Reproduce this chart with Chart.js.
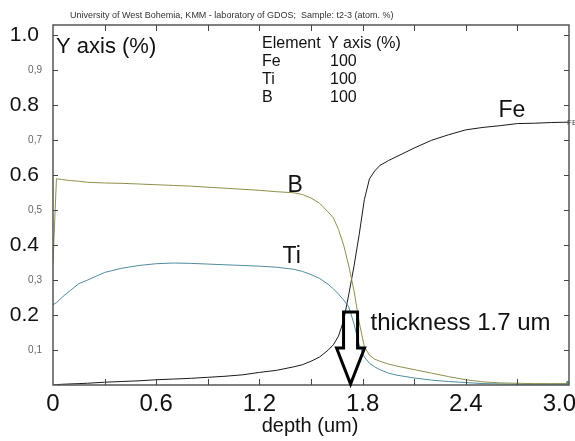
<!DOCTYPE html>
<html>
<head>
<meta charset="utf-8">
<title>GDOS depth profile t2-3</title>
<script src="https://cdn.jsdelivr.net/npm/chart.js@4.4.1/dist/chart.umd.min.js"></script>
<style>
  html, body { margin: 0; padding: 0; background: #fff; }
  #wrap { width: 575px; height: 441px; }
</style>
</head>
<body>
<div id="wrap"><canvas id="profileChart" width="575" height="441"></canvas></div>
<script>
// depth in um, concentrations as fraction (1.0 = 100 %)
const depth = [0, 0.02, 0.05, 0.1, 0.15, 0.2, 0.3, 0.4, 0.5, 0.6, 0.7, 0.8, 0.9, 1.0, 1.1, 1.2, 1.3, 1.4,
  1.45, 1.5, 1.55, 1.6, 1.63, 1.66, 1.69, 1.72, 1.75, 1.78, 1.81, 1.84, 1.87, 1.9, 1.95, 2.0,
  2.1, 2.2, 2.3, 2.4, 2.5, 2.6, 2.7, 2.8, 2.9, 3.0];
const feValues = [0.0, 0.001, 0.002, 0.003, 0.004, 0.005, 0.008, 0.010, 0.012, 0.015, 0.017, 0.019, 0.022, 0.025, 0.029, 0.036, 0.042, 0.052,
  0.058, 0.068, 0.08, 0.10, 0.115, 0.14, 0.185, 0.26, 0.34, 0.43, 0.53, 0.59, 0.612, 0.628, 0.642, 0.654,
  0.678, 0.70, 0.716, 0.73, 0.737, 0.742, 0.748, 0.749, 0.751, 0.752];
const tiValues = [0.23, 0.235, 0.25, 0.27, 0.29, 0.30, 0.322, 0.334, 0.342, 0.347, 0.349, 0.348, 0.346, 0.344, 0.342, 0.34, 0.337, 0.331,
  0.325, 0.316, 0.305, 0.288, 0.275, 0.26, 0.243, 0.223, 0.175, 0.115, 0.08, 0.062, 0.052, 0.044, 0.034, 0.028,
  0.02, 0.014, 0.01, 0.007, 0.004, 0.003, 0.002, 0.002, 0.002, 0.002];
const bValues = [0.35, 0.59, 0.588, 0.585, 0.583, 0.58, 0.578, 0.577, 0.575, 0.573, 0.571, 0.569, 0.566, 0.563, 0.56, 0.557, 0.553, 0.55,
  0.545, 0.535, 0.52, 0.495, 0.478, 0.445, 0.40, 0.34, 0.27, 0.18, 0.11, 0.085, 0.074, 0.068, 0.06, 0.054,
  0.044, 0.034, 0.024, 0.015, 0.009, 0.006, 0.005, 0.004, 0.004, 0.004];

const yTickValues = [0, 0.1, 0.2, 0.3, 0.4, 0.5, 0.6, 0.7, 0.8, 0.9, 1.0];
const xTickValues = [0, 0.3, 0.6, 0.9, 1.2, 1.5, 1.8, 2.1, 2.4, 2.7, 3.0];
const xLabelValues = [0, 0.6, 1.2, 1.8, 2.4, 3.0];

const elements = ['Fe', 'Ti', 'B'];
const elementScale = ['100', '100', '100'];

const FONT = '"Liberation Sans", Arial, sans-serif';

function toPoints(values) {
  return depth.map((d, i) => ({ x: d, y: values[i] }));
}

function isMajor(v) {
  return v > 0 && Math.round(v * 10) % 2 === 0;
}

// end marker (small hollow square) like in the original software
function endMarker(ctx) {
  return ctx.dataIndex === depth.length - 1 ? 3 : 0;
}

const decorations = {
  id: 'decorations',
  afterDraw(chart) {
    const { ctx, chartArea: a, scales: { x, y } } = chart;
    ctx.save();

    // frame
    ctx.strokeStyle = '#555';
    ctx.lineWidth = 1.5;
    ctx.strokeRect(a.left, a.top, a.right - a.left, a.bottom - a.top);

    // inward tick marks
    ctx.lineWidth = 1;
    ctx.strokeStyle = '#444';
    ctx.beginPath();
    yTickValues.forEach(v => {
      if (v === 0) return;
      const py = Math.round(y.getPixelForValue(v)) + 0.5;
      ctx.moveTo(a.left, py); ctx.lineTo(a.left + 5, py);
      ctx.moveTo(a.right, py); ctx.lineTo(a.right - 5, py);
    });
    xTickValues.forEach(v => {
      if (v === 0 || v === 3.0) return;
      const px = Math.round(x.getPixelForValue(v)) + 0.5;
      ctx.moveTo(px, a.bottom); ctx.lineTo(px, a.bottom - 6);
      ctx.moveTo(px, a.top); ctx.lineTo(px, a.top + 6);
    });
    ctx.stroke();

    // small y labels (odd tenths) sit a little further left than the big ones
    ctx.fillStyle = '#666';
    ctx.font = '10px ' + FONT;
    ctx.textAlign = 'right';
    ctx.textBaseline = 'middle';
    yTickValues.forEach(v => {
      if (v === 0 || isMajor(v)) return;
      ctx.fillText(v.toFixed(1).replace('.', ','), 42, y.getPixelForValue(v));
    });

    // x tick labels
    ctx.fillStyle = '#111';
    ctx.font = '24px ' + FONT;
    ctx.textBaseline = 'top';
    xLabelValues.forEach((v, i) => {
      const last = i === xLabelValues.length - 1;
      ctx.textAlign = last ? 'right' : 'center';
      const px = last ? 576 : x.getPixelForValue(v);
      ctx.fillText(v === 0 ? '0' : v.toFixed(1), px, a.bottom + 7);
    });

    // axis title
    ctx.textAlign = 'center';
    ctx.textBaseline = 'alphabetic';
    ctx.font = '20px ' + FONT;
    ctx.fillText('depth (um)', 310, 432);

    // header
    ctx.textAlign = 'left';
    ctx.font = '9px ' + FONT;
    ctx.fillStyle = '#333';
    ctx.fillText('University of West Bohemia, KMM - laboratory of GDOS;  Sample: t2-3 (atom. %)', 70, 18);

    ctx.fillStyle = '#111';
    ctx.font = '22px ' + FONT;
    ctx.fillText('Y axis (%)', 56, 53);

    // element table
    ctx.font = '16px ' + FONT;
    ctx.fillText('Element', 262, 48);
    ctx.fillText('Y axis (%)', 328, 48);
    elements.forEach((el, i) => {
      ctx.fillText(el, 262, 66 + i * 18);
      ctx.fillText(elementScale[i], 330, 66 + i * 18);
    });

    // curve labels
    ctx.font = '23px ' + FONT;
    ctx.fillText('B', x.getPixelForValue(1.363), y.getPixelForValue(0.552));
    ctx.fillText('Ti', x.getPixelForValue(1.334), y.getPixelForValue(0.349));
    ctx.fillText('Fe', x.getPixelForValue(2.59), y.getPixelForValue(0.767));
    ctx.font = '24px ' + FONT;
    ctx.fillText('thickness 1.7 um', x.getPixelForValue(1.846), y.getPixelForValue(0.157));

    ctx.font = '8px ' + FONT;
    ctx.fillStyle = '#444';
    ctx.fillText('FE', a.right - 2, y.getPixelForValue(0.752) + 3);

    // hollow arrow pointing at the interface
    const cx = x.getPixelForValue(1.73);
    const top = y.getPixelForValue(0.209);
    const neck = y.getPixelForValue(0.106);
    const tip = y.getPixelForValue(0);
    ctx.strokeStyle = '#000';
    ctx.lineWidth = 3;
    ctx.lineJoin = 'miter';
    ctx.beginPath();
    ctx.moveTo(cx - 7, top);
    ctx.lineTo(cx + 7, top);
    ctx.lineTo(cx + 7, neck);
    ctx.lineTo(cx + 14, neck);
    ctx.lineTo(cx, tip - 1);
    ctx.lineTo(cx - 14, neck);
    ctx.lineTo(cx - 7, neck);
    ctx.closePath();
    ctx.stroke();

    ctx.restore();
  }
};

const chart = new Chart(document.getElementById('profileChart'), {
  type: 'line',
  data: {
    datasets: [
      {
        label: 'B',
        data: toPoints(bValues),
        borderColor: '#8e8f4c',
        borderWidth: 1,
        pointRadius: endMarker,
        pointStyle: 'rect',
        pointBorderColor: '#3f8f4f',
        pointBackgroundColor: 'rgba(0,0,0,0)',
        pointBorderWidth: 1
      },
      {
        label: 'Ti',
        data: toPoints(tiValues),
        borderColor: '#4f8c9c',
        borderWidth: 1,
        pointRadius: endMarker,
        pointStyle: 'rect',
        pointBorderColor: '#3f8f4f',
        pointBackgroundColor: 'rgba(0,0,0,0)',
        pointBorderWidth: 1
      },
      {
        label: 'Fe',
        data: toPoints(feValues),
        borderColor: '#1a1a1a',
        borderWidth: 1,
        pointRadius: 0
      }
    ]
  },
  options: {
    responsive: false,
    animation: false,
    devicePixelRatio: 1,
    layout: { padding: { top: 25, right: 6, left: 0, bottom: 0 } },
    plugins: {
      legend: { display: false },
      tooltip: { enabled: false }
    },
    scales: {
      x: {
        type: 'linear',
        min: 0,
        max: 3.0,
        grid: { display: false },
        border: { display: false },
        ticks: { display: false },
        afterFit: s => { s.height = 56; }
      },
      y: {
        type: 'linear',
        min: 0,
        max: 1.03,
        grid: { display: false },
        border: { display: false },
        afterBuildTicks: s => { s.ticks = yTickValues.map(v => ({ value: v })); },
        afterFit: s => { s.width = 53; },
        ticks: {
          padding: 6,
          // only the even tenths are labelled by the axis itself, odd ones are drawn small by the plugin
          callback: v => (isMajor(v) ? v.toFixed(1) : ''),
          font: { family: FONT, size: 21 },
          color: '#111'
        }
      }
    }
  },
  plugins: [decorations]
});
</script>
</body>
</html>
